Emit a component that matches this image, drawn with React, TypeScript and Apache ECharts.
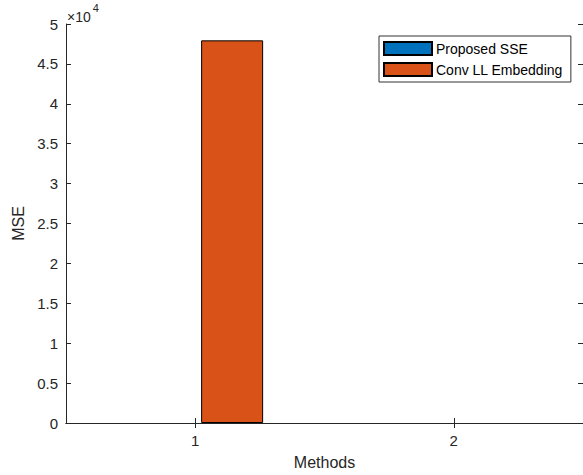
import React, { useEffect, useRef } from "react";
import * as echarts from "echarts";

const categories = ["1", "2"];
const seriesNames = ["Proposed SSE", "Conv LL Embedding"];
const proposedSSE = [0, 0];
const convLLEmbedding = [47950, 0];
const yTicks = [0, 5000, 10000, 15000, 20000, 25000, 30000, 35000, 40000, 45000, 50000];

const TXT = "#262626";
const FONT = "Liberation Sans, Arial, Helvetica, sans-serif";

const toItems = (arr: number[]) =>
  arr.map((v) => ({ value: v, itemStyle: { borderWidth: v === 0 ? 0 : 1 } }));

export default function App() {
  const ref = useRef<HTMLDivElement>(null);
  useEffect(() => {
    if (!ref.current) return;
    const chart = echarts.init(ref.current, undefined, { renderer: "svg" });
    const axisLine = { show: true, lineStyle: { color: TXT, width: 1 } };
    const tick = { show: true, inside: true, length: 5, lineStyle: { color: TXT } };
    chart.setOption({
      animation: false,
      backgroundColor: "#ffffff",
      textStyle: { fontFamily: FONT },
      grid: { left: 66, top: 24, width: 520, height: 399, containLabel: false },
      legend: {
        orient: "vertical",
        left: 379,
        top: 36,
        padding: [5, 8, 5, 4],
        itemWidth: 48,
        itemHeight: 13,
        itemGap: 6,
        backgroundColor: "#ffffff",
        borderColor: "#333333",
        borderWidth: 1,
        borderRadius: 0,
        icon: "rect",
        data: seriesNames,
        textStyle: { color: "#000000", fontSize: 14, fontFamily: FONT, padding: [0, 0, 0, -1] },
      },
      xAxis: [
        {
          type: "category",
          data: categories,
          position: "bottom",
          axisLine,
          axisTick: { ...tick, alignWithLabel: true },
          axisLabel: { color: TXT, fontSize: 15, margin: 10 },
          name: "Methods",
          nameLocation: "middle",
          nameGap: 31,
          nameTextStyle: { color: TXT, fontSize: 16 },
        },
        {
          type: "category",
          data: categories,
          position: "top",
          axisLine,
          axisTick: { ...tick, alignWithLabel: true },
          axisLabel: { show: false },
        },
      ],
      yAxis: [
        {
          type: "value",
          min: yTicks[0],
          max: yTicks[yTicks.length - 1],
          interval: yTicks[1] - yTicks[0],
          position: "left",
          axisLine,
          axisTick: tick,
          splitLine: { show: false },
          axisLabel: {
            color: TXT,
            fontSize: 15,
            margin: 8,
            formatter: (v: number) => String(v / 10000),
          },
          name: "MSE",
          nameLocation: "middle",
          nameGap: 36,
          nameTextStyle: { color: TXT, fontSize: 16 },
        },
        {
          type: "value",
          min: yTicks[0],
          max: yTicks[yTicks.length - 1],
          interval: yTicks[1] - yTicks[0],
          position: "right",
          axisLine,
          axisTick: tick,
          splitLine: { show: false },
          axisLabel: { show: false },
        },
      ],
      graphic: [
        {
          type: "text",
          left: 67,
          top: 2,
          style: {
            text: "{a|×10}{b|4}",
            rich: {
              a: { fontSize: 14, fill: TXT, fontFamily: FONT, verticalAlign: "bottom", padding: [8, 0, 0, 0] },
              b: { fontSize: 11, fill: TXT, fontFamily: FONT, verticalAlign: "top", padding: [0, 0, 9, 2] },
            },
          },
        },
      ],
      series: [
        {
          name: seriesNames[0],
          type: "bar",
          data: toItems(proposedSSE),
          barWidth: 62,
          barGap: "19%",
          itemStyle: { color: "#0072BD", borderColor: "#000000", borderWidth: 1 },
        },
        {
          name: seriesNames[1],
          type: "bar",
          data: toItems(convLLEmbedding),
          barWidth: 62,
          barGap: "19%",
          itemStyle: { color: "#D95319", borderColor: "#000000", borderWidth: 1 },
        },
      ],
    });
    return () => chart.dispose();
  }, []);
  return (
    <div
      ref={ref}
      style={{ position: "absolute", left: 0, top: 0, width: 583, height: 475, background: "#fff" }}
    />
  );
}
